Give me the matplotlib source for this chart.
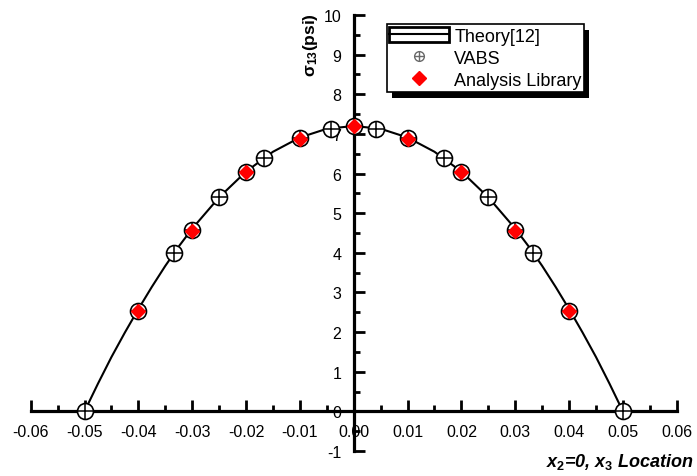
import numpy as np
import matplotlib
matplotlib.use('Agg')
import matplotlib.pyplot as plt
from matplotlib.lines import Line2D
from matplotlib.patches import Rectangle
from matplotlib.legend_handler import HandlerTuple
from matplotlib.transforms import IdentityTransform

plt.rcParams['font.family'] = ['Liberation Sans', 'DejaVu Sans']
plt.rcParams['axes.unicode_minus'] = False
plt.rcParams['mathtext.fontset'] = 'custom'
plt.rcParams['mathtext.rm'] = 'Liberation Sans:bold'
plt.rcParams['mathtext.it'] = 'Liberation Sans:bold:italic'
plt.rcParams['mathtext.bf'] = 'Liberation Sans:bold'

# theory curve
theory_x = [-0.05, -0.0475, -0.045, -0.0425, -0.04, -0.0375, -0.035, -0.0325, -0.03, -0.025, -0.02,
            -0.015, -0.01, -0.005, 0.0, 0.005, 0.01, 0.015, 0.02, 0.025, 0.03, 0.0325, 0.035, 0.0375,
            0.04, 0.0425, 0.045, 0.0475, 0.05]
theory_y = [0.0, 0.70, 1.37, 1.99, 2.58, 3.14, 3.67, 4.16, 4.61, 5.40, 6.05,
            6.55, 6.91, 7.13, 7.20, 7.13, 6.91, 6.55, 6.05, 5.40, 4.61, 4.16, 3.67, 3.14,
            2.58, 1.99, 1.37, 0.70, 0.0]

# VABS points
vabs_x = [-0.05, -0.04, -0.0333, -0.03, -0.025, -0.02, -0.0167, -0.01, -0.0042, 0.0,
          0.0042, 0.01, 0.0167, 0.02, 0.025, 0.03, 0.0333, 0.04, 0.05]
vabs_y = [0.0, 2.53, 4.0, 4.57, 5.41, 6.04, 6.40, 6.89, 7.13, 7.20,
          7.13, 6.89, 6.40, 6.04, 5.41, 4.57, 4.0, 2.53, 0.0]

# analysis library points
lib_x = [-0.04, -0.03, -0.02, -0.01, 0.0, 0.01, 0.02, 0.03, 0.04]
lib_y = [2.52, 4.56, 6.03, 6.88, 7.20, 6.88, 6.03, 4.56, 2.52]

fig = plt.figure(figsize=(6.97, 4.77), dpi=100)
ax = fig.add_axes([0.044, 0.0524, 0.927, 0.914])

ax.plot(theory_x, theory_y, color='black', lw=1.5, zorder=2)
ax.plot(vabs_x, vabs_y, ls='none', marker='o', ms=11.5, mfc='white', mec='black', mew=1.2, zorder=3)
ax.plot(vabs_x, vabs_y, ls='none', marker='+', ms=11.5, mec='black', mew=1.1, zorder=3)
ax.plot(lib_x, lib_y, ls='none', marker='D', ms=7, mfc='red', mec='red', zorder=4)

ax.set_xlim(-0.06, 0.06)
ax.set_ylim(-1, 10)
ax.spines['left'].set_position(('data', 0))
ax.spines['bottom'].set_position(('data', 0))
ax.spines['top'].set_visible(False)
ax.spines['right'].set_visible(False)
for s in ['left', 'bottom']:
    ax.spines[s].set_linewidth(2.3)
ax.patch.set_visible(False)

xt = np.arange(-0.06, 0.061, 0.01)
ax.set_xticks(xt)
ax.set_xticklabels(['%.2f' % v if abs(v) > 1e-9 else '0.00' for v in xt])
ax.set_xticks(np.arange(-0.055, 0.06, 0.01), minor=True)
ax.set_yticks(range(-1, 11))
ax.set_yticks(np.arange(-0.5, 10, 1), minor=True)
ax.tick_params(which='major', direction='in', length=8, width=2, labelsize=11.5)
ax.tick_params(which='minor', direction='in', length=4, width=2)
ax.tick_params(axis='x', which='major', pad=9)
ax.tick_params(axis='y', which='major', pad=9)

fig.text(0.445, 0.905, r'σ$_{13}$(psi)', rotation=90, fontsize=12.5, fontweight='bold',
         ha='center', va='center')
fig.text(0.995, 0.031, r'$x_2$=0, $x_3$ Location', fontsize=13, fontweight='bold',
         style='italic', ha='right', va='center')

# legend handles
h_theory = (Rectangle((0, 0), 1, 1, facecolor='white', edgecolor='black', lw=2),
            Line2D([], [], color='black', lw=1.5))
h_vabs = (Line2D([], [], ls='none', marker='o', ms=7, mfc='white', mec='dimgray', mew=1),
          Line2D([], [], ls='none', marker='+', ms=7, mec='dimgray', mew=1))
h_lib = Line2D([], [], ls='none', marker='D', ms=7, mfc='red', mec='red')
leg = ax.legend([h_theory, h_vabs, h_lib], ['Theory[12]', 'VABS', 'Analysis Library'],
                handler_map={tuple: HandlerTuple(ndivide=1, pad=0)},
                loc='upper left', bbox_to_anchor=(0.551, 0.979), borderaxespad=0,
                fontsize=13, frameon=True, fancybox=False, edgecolor='black',
                framealpha=1, handlelength=3.3, handleheight=0.9, handletextpad=0.3,
                labelspacing=0.25, borderpad=0.15)
leg.get_frame().set_linewidth(1.2)
leg.set_zorder(6)

fig.canvas.draw()
bb = leg.get_window_extent()
shadow = Rectangle((bb.x0 + 5, bb.y0 - 6), bb.width, bb.height, facecolor='black',
                   edgecolor='none', transform=IdentityTransform(), zorder=5.9)
ax.add_patch(shadow)
ax.set_xlim(-0.06, 0.06)
ax.set_ylim(-1, 10)

fig.savefig('out.png', dpi=100)
